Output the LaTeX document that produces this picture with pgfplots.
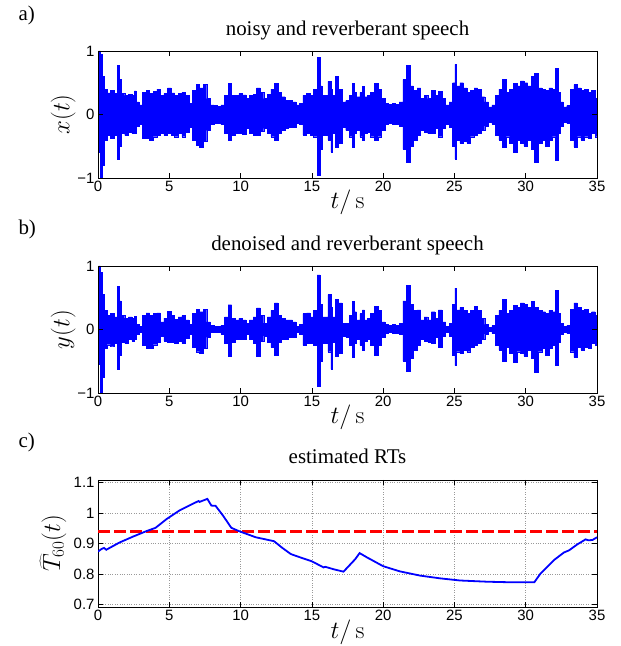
\documentclass[border=0pt]{standalone}
\usepackage[no-math]{fontspec}
\setmainfont{Liberation Serif}
\newfontfamily\ticksf{Liberation Sans}
\usepackage{pgfplots}
\usepackage{pgfplotstable}
\pgfplotsset{compat=1.18}
\definecolor{mred}{RGB}{255,0,0}
\definecolor{mblue}{RGB}{0,0,255}

% envelope of the noisy and reverberant speech (upper u, lower l)
\pgfplotstableread{
t u l
0.00 0.20 -0.25
0.10 1.00 -0.60
0.25 0.95 -1.00
0.35 0.60 -0.80
0.50 0.40 -0.40
0.75 0.34 -0.33
1.00 0.38 -0.37
1.25 0.33 -0.32
1.45 0.77 -0.71
1.50 0.55 -0.50
1.75 0.33 -0.30
2.00 0.30 -0.33
2.25 0.32 -0.28
2.50 0.30 -0.30
2.60 0.37 -0.30
2.75 0.20 -0.18
3.00 0.15 -0.15
3.25 0.35 -0.37
3.50 0.38 -0.38
3.75 0.33 -0.40
4.00 0.36 -0.35
4.25 0.40 -0.33
4.50 0.30 -0.30
4.75 0.33 -0.33
5.00 0.42 -0.30
5.25 0.34 -0.32
5.50 0.30 -0.35
5.75 0.33 -0.30
6.00 0.35 -0.35
6.25 0.30 -0.28
6.50 0.18 -0.20
6.75 0.38 -0.40
7.00 0.47 -0.48
7.25 0.42 -0.51
7.50 0.47 -0.42
7.75 0.25 -0.25
8.00 0.15 -0.15
8.25 0.14 -0.14
8.50 0.13 -0.14
8.75 0.15 -0.16
9.00 0.30 -0.30
9.25 0.49 -0.40
9.50 0.30 -0.32
9.75 0.30 -0.30
10.00 0.33 -0.30
10.25 0.31 -0.31
10.50 0.25 -0.22
10.75 0.30 -0.30
11.00 0.32 -0.33
11.25 0.42 -0.33
11.50 0.35 -0.27
11.75 0.25 -0.22
12.00 0.32 -0.30
12.25 0.40 -0.35
12.50 0.49 -0.40
12.75 0.35 -0.30
13.00 0.28 -0.25
13.25 0.22 -0.22
13.50 0.22 -0.20
13.75 0.20 -0.20
14.00 0.15 -0.14
14.25 0.18 -0.16
14.50 0.30 -0.32
14.75 0.33 -0.30
15.00 0.30 -0.32
15.25 0.40 -0.35
15.50 0.90 -0.96
15.65 0.45 -0.55
15.75 0.30 -0.33
16.00 0.30 -0.32
16.25 0.52 -0.40
16.40 0.40 -0.59
16.50 0.30 -0.30
16.75 0.60 -0.52
17.00 0.40 -0.45
17.25 0.20 -0.20
17.50 0.22 -0.25
17.75 0.30 -0.35
17.90 0.49 -0.51
18.00 0.35 -0.30
18.25 0.28 -0.25
18.50 0.35 -0.35
18.60 0.44 -0.40
18.75 0.28 -0.30
19.00 0.30 -0.28
19.25 0.35 -0.35
19.50 0.49 -0.40
19.75 0.40 -0.35
20.00 0.25 -0.25
20.25 0.18 -0.15
20.50 0.16 -0.14
20.75 0.18 -0.15
21.00 0.16 -0.15
21.25 0.20 -0.18
21.50 0.55 -0.55
21.75 0.77 -0.75
22.00 0.45 -0.50
22.25 0.38 -0.40
22.50 0.42 -0.33
22.75 0.25 -0.25
23.00 0.30 -0.28
23.25 0.25 -0.30
23.50 0.38 -0.30
23.75 0.30 -0.22
24.00 0.36 -0.35
24.25 0.25 -0.22
24.50 0.15 -0.15
24.75 0.20 -0.20
25.00 0.50 -0.50
25.05 0.79 -0.70
25.25 0.45 -0.40
25.50 0.50 -0.45
25.75 0.42 -0.42
26.00 0.35 -0.45
26.25 0.38 -0.35
26.50 0.42 -0.33
26.75 0.40 -0.30
27.00 0.28 -0.25
27.25 0.20 -0.18
27.50 0.12 -0.12
27.75 0.15 -0.15
28.00 0.30 -0.32
28.25 0.40 -0.40
28.50 0.55 -0.51
28.75 0.35 -0.35
29.00 0.40 -0.45
29.25 0.49 -0.59
29.50 0.45 -0.40
29.75 0.53 -0.45
30.00 0.50 -0.50
30.25 0.45 -0.40
30.50 0.60 -0.55
30.75 0.65 -0.75
31.00 0.42 -0.45
31.25 0.40 -0.40
31.50 0.38 -0.50
31.75 0.42 -0.40
32.00 0.40 -0.35
32.20 0.73 -0.72
32.40 0.35 -0.30
32.50 0.20 -0.18
32.75 0.12 -0.12
33.00 0.14 -0.14
33.25 0.40 -0.40
33.50 0.47 -0.51
33.75 0.42 -0.35
34.00 0.38 -0.40
34.25 0.40 -0.35
34.50 0.35 -0.38
34.75 0.38 -0.30
35.00 0.25 -0.35
}\dataA

% envelope of the denoised and reverberant speech
\pgfplotstableread{
t u l
0.00 0.10 -0.15
0.10 1.00 -0.55
0.25 0.90 -1.00
0.35 0.55 -0.75
0.50 0.30 -0.30
0.75 0.22 -0.24
1.00 0.25 -0.26
1.25 0.20 -0.22
1.45 0.68 -0.62
1.50 0.45 -0.40
1.75 0.22 -0.20
2.00 0.18 -0.22
2.25 0.20 -0.16
2.50 0.18 -0.18
2.60 0.21 -0.15
2.75 0.08 -0.07
3.00 0.05 -0.05
3.25 0.22 -0.25
3.50 0.26 -0.30
3.75 0.22 -0.30
4.00 0.25 -0.24
4.25 0.26 -0.20
4.50 0.12 -0.10
4.75 0.18 -0.18
5.00 0.29 -0.20
5.25 0.22 -0.20
5.50 0.16 -0.22
5.75 0.20 -0.18
6.00 0.22 -0.22
6.25 0.15 -0.13
6.50 0.08 -0.08
6.75 0.25 -0.28
7.00 0.32 -0.35
7.25 0.28 -0.38
7.50 0.32 -0.30
7.75 0.12 -0.12
8.00 0.06 -0.05
8.25 0.05 -0.05
8.50 0.05 -0.05
8.75 0.07 -0.07
9.00 0.20 -0.22
9.25 0.39 -0.42
9.50 0.18 -0.20
9.75 0.15 -0.15
10.00 0.18 -0.16
10.25 0.15 -0.15
10.50 0.10 -0.08
10.75 0.15 -0.15
11.00 0.20 -0.22
11.25 0.34 -0.42
11.50 0.22 -0.18
11.75 0.10 -0.10
12.00 0.20 -0.20
12.25 0.30 -0.28
12.50 0.42 -0.40
12.75 0.22 -0.20
13.00 0.18 -0.15
13.25 0.15 -0.15
13.50 0.15 -0.12
13.75 0.12 -0.12
14.00 0.05 -0.05
14.25 0.08 -0.07
14.50 0.25 -0.25
14.75 0.26 -0.22
15.00 0.20 -0.22
15.25 0.30 -0.25
15.50 0.86 -0.89
15.65 0.40 -0.50
15.75 0.20 -0.22
16.00 0.20 -0.22
16.25 0.55 -0.35
16.40 0.35 -0.62
16.50 0.20 -0.20
16.75 0.47 -0.42
17.00 0.42 -0.38
17.25 0.10 -0.10
17.50 0.10 -0.12
17.75 0.22 -0.25
17.90 0.44 -0.44
18.00 0.28 -0.22
18.25 0.15 -0.15
18.50 0.25 -0.25
18.60 0.31 -0.32
18.75 0.15 -0.18
19.00 0.18 -0.15
19.25 0.25 -0.25
19.50 0.36 -0.40
19.75 0.30 -0.25
20.00 0.12 -0.12
20.25 0.08 -0.06
20.50 0.06 -0.05
20.75 0.08 -0.06
21.00 0.06 -0.06
21.25 0.10 -0.08
21.50 0.45 -0.50
21.75 0.70 -0.65
22.00 0.40 -0.45
22.25 0.30 -0.32
22.50 0.31 -0.25
22.75 0.15 -0.15
23.00 0.20 -0.18
23.25 0.15 -0.20
23.50 0.28 -0.22
23.75 0.18 -0.12
24.00 0.31 -0.28
24.25 0.12 -0.10
24.50 0.05 -0.05
24.75 0.10 -0.10
25.00 0.40 -0.40
25.05 0.65 -0.57
25.25 0.31 -0.35
25.50 0.35 -0.38
25.75 0.30 -0.32
26.00 0.25 -0.35
26.25 0.30 -0.28
26.50 0.36 -0.25
26.75 0.30 -0.22
27.00 0.18 -0.15
27.25 0.08 -0.07
27.50 0.03 -0.03
27.75 0.06 -0.06
28.00 0.22 -0.25
28.25 0.30 -0.32
28.50 0.47 -0.50
28.75 0.25 -0.28
29.00 0.30 -0.38
29.25 0.38 -0.52
29.50 0.35 -0.35
29.75 0.42 -0.38
30.00 0.40 -0.42
30.25 0.35 -0.32
30.50 0.44 -0.45
30.75 0.35 -0.68
31.00 0.30 -0.35
31.25 0.28 -0.30
31.50 0.25 -0.40
31.75 0.30 -0.30
32.00 0.28 -0.25
32.20 0.62 -0.57
32.40 0.25 -0.20
32.50 0.10 -0.08
32.75 0.05 -0.05
33.00 0.06 -0.06
33.25 0.32 -0.35
33.50 0.42 -0.44
33.75 0.35 -0.28
34.00 0.30 -0.32
34.25 0.32 -0.28
34.50 0.25 -0.30
34.75 0.28 -0.22
35.00 0.22 -0.25
}\dataB

% estimated T60
\pgfplotstableread{
t r
0.00 0.874
0.23 0.882
0.42 0.886
0.58 0.880
1.52 0.904
2.45 0.923
3.39 0.941
4.04 0.952
4.79 0.980
5.72 1.009
6.66 1.031
7.05 1.040
7.12 1.037
7.67 1.047
7.95 1.025
8.25 1.024
8.77 0.992
9.35 0.952
9.89 0.941
11.06 0.921
12.35 0.908
12.93 0.886
13.52 0.866
13.87 0.860
14.18 0.855
15.00 0.842
15.82 0.822
15.94 0.824
16.52 0.816
17.22 0.808
18.04 0.849
18.35 0.869
18.86 0.855
20.00 0.826
21.17 0.809
22.60 0.795
24.00 0.786
25.40 0.779
27.30 0.775
29.10 0.773
30.60 0.773
31.04 0.802
31.98 0.846
32.68 0.871
33.04 0.878
33.60 0.897
34.20 0.914
34.40 0.911
34.68 0.912
35.00 0.921
}\dataC

\pgfplotsset{
  panel/.style={
    scale only axis, width=499bp, height=127bp,
    anchor=south west,
    xmin=0, xmax=35, xtick={0,5,...,35},
    tick align=inside, major tick length=5bp,
    tick style={black, line width=0.5pt},
    axis line style={line width=0.8pt},
    axis on top,
    /pgf/number format/assume math mode=true,
    tick label style={font=\fontsize{15}{18}\selectfont\ticksf},
    title style={font=\fontsize{21}{25}\selectfont, at={(axis description cs:0.5,1)}, anchor=base, yshift=10bp},
    xlabel={$t/\,\mathrm{s}$},
    xlabel style={font=\fontsize{23}{27}\selectfont, at={(axis description cs:0.5,0)}, anchor=base, yshift=-31bp},
    ylabel style={font=\fontsize{23}{27}\selectfont, at={(axis description cs:-0.07,0.5)}, anchor=center},
  },
  wave/.style={
    panel, ymin=-1, ymax=1, ytick={-1,0,1}, yticklabels={−1,0,1},
  },
  env/.style={draw=mblue, fill=mblue, line width=0.4pt, const plot mark mid},
}

\begin{document}
\begin{tikzpicture}
\node[anchor=base west, font=\fontsize{21}{25}\selectfont] at (15bp,625bp) {a)};
\node[anchor=base west, font=\fontsize{21}{25}\selectfont] at (15bp,411bp) {b)};
\node[anchor=base west, font=\fontsize{21}{25}\selectfont] at (15bp,198bp) {c)};

\begin{axis}[wave, at={(98bp,468bp)}, title={noisy and reverberant speech}, ylabel={$x(t)$}]
\addplot[env] table[x=t,y=u]{\dataA} \closedcycle;
\addplot[env] table[x=t,y=l]{\dataA} \closedcycle;
\end{axis}

\begin{axis}[wave, at={(98bp,253bp)}, title={denoised and reverberant speech}, ylabel={$y(t)$}]
\addplot[env] table[x=t,y=u]{\dataB} \closedcycle;
\addplot[env] table[x=t,y=l]{\dataB} \closedcycle;
\end{axis}

\begin{axis}[panel, at={(98bp,39bp)}, title={estimated RTs}, title style={yshift=1bp}, axis on top=false,
  ymin=0.692, ymax=1.109, ytick={0.7,0.8,0.9,1,1.1},
  grid=major, grid style={dotted, gray!80, line width=0.5pt},
  ylabel={$\widehat{T}_{60}(t)$}, ylabel style={at={(axis description cs:-0.09,0.5)}}]
\addplot[draw=mred, color=mred, line width=2.2bp, dash pattern=on 12bp off 4bp] coordinates {(0,0.94) (35,0.94)};
\addplot[draw=mblue, line width=1.8bp] table[x=t,y=r]{\dataC};
\end{axis}
\pgfresetboundingbox
\path[use as bounding box] (0,0) rectangle (621bp,646bp);
\end{tikzpicture}
\end{document}
